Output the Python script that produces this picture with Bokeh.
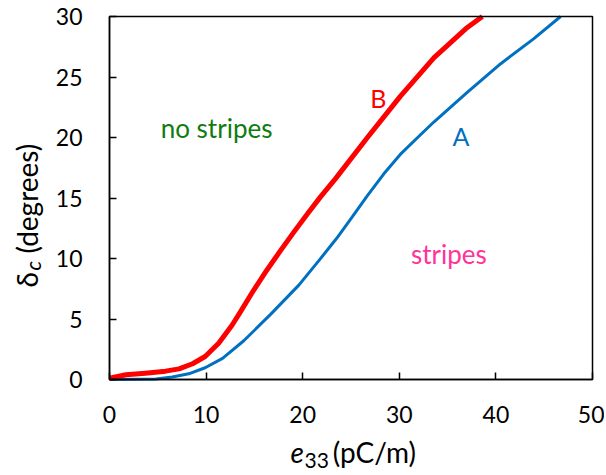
import math
from bokeh.plotting import figure
from bokeh.models import Range1d, Label, FixedTicker, LinearAxis
from bokeh.embed import file_html
from bokeh.resources import INLINE

# Curve B (red)
b_x = [0, 1.7, 3.7, 5.8, 7.2, 8.6, 9.9, 11.3, 12.7, 13.6, 14.9, 16.3, 17.7, 19.1, 20.5, 21.8, 23.4, 26.7, 30.1, 33.6, 36.9, 38.6]
b_y = [0.1, 0.39, 0.52, 0.69, 0.88, 1.3, 1.9, 3.0, 4.5, 5.65, 7.35, 9.05, 10.65, 12.2, 13.7, 15.05, 16.6, 20.0, 23.4, 26.6, 29.0, 30.0]

# Curve A (blue)
a_x = [0, 4.8, 6.5, 8.2, 9.9, 11.7, 13.9, 16.7, 19.6, 21.8, 23.5, 25.0, 26.7, 28.4, 30.1, 31.9, 33.6, 37.0, 40.5, 43.9, 46.7]
a_y = [0, 0.05, 0.2, 0.47, 0.97, 1.75, 3.2, 5.4, 7.8, 9.95, 11.65, 13.3, 15.2, 17.0, 18.6, 20.0, 21.3, 23.7, 26.1, 28.15, 30.0]

x_ticks = [0, 10, 20, 30, 40, 50]
y_ticks = [0, 5, 10, 15, 20, 25, 30]

FONT = "Lato"
W, H = 604, 473
# pixel placement of the plotting box inside the canvas
LEFT_PX, TOP_PX, RIGHT_PX, BOTTOM_PX = 109, 16, 592, 379
sx = (RIGHT_PX - LEFT_PX) / (x_ticks[-1] - x_ticks[0])
sy = (BOTTOM_PX - TOP_PX) / (y_ticks[-1] - y_ticks[0])

p = figure(width=W, height=H, output_backend="svg", toolbar_location=None,
           x_axis_type=None, y_axis_type=None,
           x_range=Range1d(x_ticks[0] - LEFT_PX / sx, x_ticks[0] + (W - LEFT_PX) / sx),
           y_range=Range1d(y_ticks[0] - (H - BOTTOM_PX) / sy, y_ticks[0] + BOTTOM_PX / sy),
           min_border=0)
p.title.visible = False
p.grid.visible = False
p.outline_line_color = None
p.background_fill_color = "white"
p.border_fill_color = "white"

xaxis = LinearAxis(fixed_location=y_ticks[0], bounds=(x_ticks[0], x_ticks[-1]),
                   ticker=FixedTicker(ticks=x_ticks))
yaxis = LinearAxis(fixed_location=x_ticks[0], bounds=(y_ticks[0], y_ticks[-1]),
                   ticker=FixedTicker(ticks=y_ticks))
for ax in (xaxis, yaxis):
    ax.axis_line_color = "black"
    ax.axis_line_width = 1.5
    ax.major_tick_line_color = "black"
    ax.major_tick_line_width = 1.5
    ax.major_tick_in = 7
    ax.major_tick_out = 0
    ax.minor_tick_line_color = None
    ax.major_label_text_font = FONT
    ax.major_label_text_font_size = "23px"
    ax.major_label_text_color = "black"
xaxis.major_label_standoff = 26
yaxis.major_label_standoff = 27
p.add_layout(xaxis, "below")
p.add_layout(yaxis, "left")

p.line(a_x, a_y, line_color="#0070c0", line_width=3, line_join="round")
p.line(b_x, b_y, line_color="#ff0000", line_width=5, line_join="round")

# plot box (top and right edges)
p.quad(left=[x_ticks[0]], right=[x_ticks[-1]], bottom=[y_ticks[0]], top=[y_ticks[-1]],
       fill_color=None, line_color="black", line_width=1.5)

# region / curve annotations
p.add_layout(Label(x=5.3, y=20.75, text="no stripes", text_font=FONT, text_font_size="26px",
                   text_color="#107c10", text_align="left", text_baseline="alphabetic"))
p.add_layout(Label(x=31.2, y=10.4, text="stripes", text_font=FONT, text_font_size="26px",
                   text_color="#ff3399", text_align="left", text_baseline="alphabetic"))
p.add_layout(Label(x=27.0, y=23.25, text="B", text_font=FONT, text_font_size="25px",
                   text_color="#ff0000", text_align="left", text_baseline="alphabetic"))
p.add_layout(Label(x=35.5, y=20.15, text="A", text_font=FONT, text_font_size="25px",
                   text_color="#0070c0", text_align="left", text_baseline="alphabetic"))

# x axis label: e_33 (pC/m)
p.add_layout(Label(x=18.74, y=-6.0, text="e", text_font=FONT, text_font_style="italic",
                   text_color="black", text_font_size="28px", text_align="left", text_baseline="alphabetic"))
p.add_layout(Label(x=20.19, y=-6.66, text="33", text_font=FONT, text_color="black",
                   text_font_size="21px", text_align="left", text_baseline="alphabetic"))
p.add_layout(Label(x=23.1, y=-6.0, text="(pC/m)", text_font=FONT, text_color="black",
                   text_font_size="28px", text_align="left", text_baseline="alphabetic"))

# y axis label: delta_c (degrees)
p.add_layout(Label(x=-8.5, y=7.6, text="δ", text_font=FONT, angle=math.pi / 2, text_color="black",
                   text_font_size="28px", text_align="left", text_baseline="alphabetic"))
p.add_layout(Label(x=-8.0, y=9.0, text="c", text_font=FONT, text_font_style="italic", angle=math.pi / 2,
                   text_color="black", text_font_size="21px", text_align="left", text_baseline="alphabetic"))
p.add_layout(Label(x=-8.5, y=10.41, text="(degrees)", text_font=FONT, angle=math.pi / 2, text_color="black",
                   text_font_size="28px", text_align="left", text_baseline="alphabetic"))

open("out.html", "w").write(file_html(p, INLINE))
